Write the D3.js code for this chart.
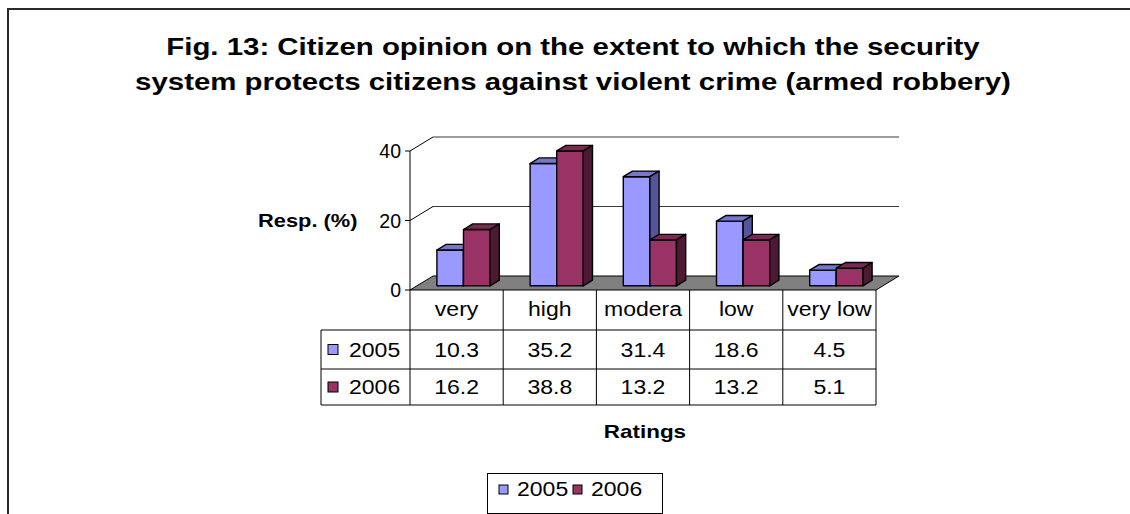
<!DOCTYPE html>
<html>
<head>
<meta charset="utf-8">
<script src="https://cdn.jsdelivr.net/npm/d3@7"></script>
<style>
  html, body { margin: 0; padding: 0; background: #fff; }
  svg { display: block; }
  text { font-family: "Liberation Sans", Arial, sans-serif; fill: #000; }
</style>
</head>
<body>
<svg id="chart" width="1130" height="514"></svg>
<script>
// ---------- data ----------
const categories = ["very", "high", "modera", "low", "very low"];
const seriesNames = ["2005", "2006"];
const values2005 = [10.3, 35.2, 31.4, 18.6, 4.5];
const values2006 = [16.2, 38.8, 13.2, 13.2, 5.1];
const yTicks = [0, 20, 40];
const titleLines = [
  "Fig. 13: Citizen opinion on the extent to which the security",
  "system protects citizens against violent crime (armed robbery)"
];
const yAxisTitle = "Resp. (%)";
const xAxisTitle = "Ratings";

// ---------- styling / layout ----------
const frontColors = {"2005": "#9999FF", "2006": "#993366"};
const topColors   = {"2005": "#7676CC", "2006": "#7A2952"};
const sideColors  = {"2005": "#555599", "2006": "#4D1A33"};
const K = 1.18; // horizontal glyph stretch of the original rendering

const svg = d3.select("#chart");

function stretch(sel, k) {
  sel.each(function () {
    const w = this.getComputedTextLength();
    this.setAttribute("textLength", w * k);
    this.setAttribute("lengthAdjust", "spacingAndGlyphs");
  });
}

// outer frame (cut at right/bottom)
svg.append("path")
  .attr("d", "M8,514 L8,9 L1130,9")
  .attr("fill", "none").attr("stroke", "#2a2a2a").attr("stroke-width", 2);

// title
const titleY = [55, 90];
titleLines.forEach((t, i) => {
  svg.append("text")
    .attr("x", 573).attr("y", titleY[i])
    .attr("text-anchor", "middle")
    .attr("font-weight", "bold").attr("font-size", 24.5)
    .text(t)
    .call(stretch, 1.2);
});

// scales
const plotLeft = 410, plotRight = 876;
const x = d3.scaleBand().domain(categories).range([plotLeft, plotRight]).paddingInner(0).paddingOuter(0);
const bw = x.bandwidth();
const xs = d3.scaleBand().domain(seriesNames).range([20, bw - 20]).padding(0);
const y = d3.scaleLinear().domain([0, 40]).range([290, 151]);
const DX = 23, DY = -14;           // full depth offset
const fBack = 0.3, fDepth = 0.4;   // bar depth position / thickness

// back-wall gridlines
const g = svg.append("g");
yTicks.filter(v => v > 0).forEach(v => {
  g.append("line")
    .attr("x1", plotLeft + DX).attr("x2", plotRight + DX)
    .attr("y1", y(v) + DY).attr("y2", y(v) + DY)
    .attr("stroke", "#3a3a3a").attr("stroke-width", 1.2);
  g.append("line")
    .attr("x1", plotLeft).attr("y1", y(v))
    .attr("x2", plotLeft + DX).attr("y2", y(v) + DY)
    .attr("stroke", "#000").attr("stroke-width", 1);
});

// floor
g.append("polygon")
  .attr("points", [
    [plotLeft, y(0)], [plotRight, y(0)],
    [plotRight + DX, y(0) + DY], [plotLeft + DX, y(0) + DY]
  ].map(p => p.join(",")).join(" "))
  .attr("fill", "#808080").attr("stroke", "#000").attr("stroke-width", 1);

// y axis
g.append("line")
  .attr("x1", plotLeft).attr("x2", plotLeft)
  .attr("y1", y(40)).attr("y2", y(0))
  .attr("stroke", "#000").attr("stroke-width", 1);
yTicks.forEach(v => {
  g.append("line")
    .attr("x1", plotLeft - 5).attr("x2", plotLeft)
    .attr("y1", y(v)).attr("y2", y(v))
    .attr("stroke", "#000");
  g.append("text")
    .attr("x", 401).attr("y", y(v) + 7)
    .attr("text-anchor", "end").attr("font-size", 19.5)
    .text(v).call(stretch, 1.0);
});

// y axis title
svg.append("text")
  .attr("x", 258).attr("y", 227)
  .attr("font-weight", "bold").attr("font-size", 18.5)
  .text(yAxisTitle).call(stretch, K);

// bars (3D)
const series = [
  {name: "2005", values: values2005},
  {name: "2006", values: values2006}
];
const ox = DX * fBack, oy = DY * fBack;
const ddx = DX * fDepth, ddy = DY * fDepth;
const barsG = svg.append("g");
categories.forEach((c, ci) => {
  series.forEach(s => {
    const v = s.values[ci];
    const x0 = x(c) + xs(s.name) + ox;
    const x1 = x0 + xs.bandwidth();
    const yb = y(0) + oy;
    const yt = y(v) + oy;
    const pts = a => a.map(p => p.join(",")).join(" ");
    // front
    barsG.append("polygon")
      .attr("points", pts([[x0, yt], [x1, yt], [x1, yb], [x0, yb]]))
      .attr("fill", frontColors[s.name]).attr("stroke", "#000").attr("stroke-width", 1.4)
      .attr("stroke-linejoin", "round");
    // top
    barsG.append("polygon")
      .attr("points", pts([[x0, yt], [x0 + ddx, yt + ddy], [x1 + ddx, yt + ddy], [x1, yt]]))
      .attr("fill", topColors[s.name]).attr("stroke", "#000").attr("stroke-width", 1.4)
      .attr("stroke-linejoin", "round");
    // side
    barsG.append("polygon")
      .attr("points", pts([[x1, yt], [x1 + ddx, yt + ddy], [x1 + ddx, yb + ddy], [x1, yb]]))
      .attr("fill", sideColors[s.name]).attr("stroke", "#000").attr("stroke-width", 1.4)
      .attr("stroke-linejoin", "round");
  });
});

// data table
const tG = svg.append("g");
const tableLeft = 321;
const rowY = [290, 330, 369, 405];
const fmt = d3.format(".1f");
// horizontal lines
[330, 369, 405].forEach(yy => {
  tG.append("line").attr("x1", tableLeft).attr("x2", plotRight)
    .attr("y1", yy).attr("y2", yy).attr("stroke", "#000");
});
// vertical lines
const colEdges = categories.map(c => x(c)).concat([plotRight]);
colEdges.forEach(xx => {
  tG.append("line").attr("x1", xx).attr("x2", xx)
    .attr("y1", rowY[0]).attr("y2", rowY[3]).attr("stroke", "#000");
});
tG.append("line").attr("x1", tableLeft).attr("x2", tableLeft)
  .attr("y1", rowY[1]).attr("y2", rowY[3]).attr("stroke", "#000");
// header
categories.forEach(c => {
  tG.append("text")
    .attr("x", x(c) + bw / 2).attr("y", 316)
    .attr("text-anchor", "middle").attr("font-size", 19.5)
    .text(c).call(stretch, K);
});
// rows
series.forEach((s, si) => {
  const top = rowY[si + 1], bot = rowY[si + 2];
  const base = (top + bot) / 2 + 7;
  tG.append("rect")
    .attr("x", 328).attr("y", (top + bot) / 2 - 5)
    .attr("width", 10).attr("height", 10)
    .attr("fill", frontColors[s.name]).attr("stroke", "#000").attr("stroke-width", 1);
  tG.append("text")
    .attr("x", 349).attr("y", base).attr("font-size", 19.5)
    .text(s.name).call(stretch, K);
  s.values.forEach((v, ci) => {
    tG.append("text")
      .attr("x", x(categories[ci]) + bw / 2).attr("y", base)
      .attr("text-anchor", "middle").attr("font-size", 19.5)
      .text(fmt(v)).call(stretch, K);
  });
});

// x axis title
svg.append("text")
  .attr("x", 645).attr("y", 438)
  .attr("text-anchor", "middle")
  .attr("font-weight", "bold").attr("font-size", 19)
  .text(xAxisTitle).call(stretch, K);

// legend
const lg = svg.append("g");
lg.append("rect")
  .attr("x", 487.5).attr("y", 473.5).attr("width", 175).attr("height", 40)
  .attr("fill", "#fff").attr("stroke", "#000").attr("stroke-width", 1);
const legX = [499, 573];
seriesNames.forEach((n, i) => {
  lg.append("rect")
    .attr("x", legX[i]).attr("y", 485).attr("width", 9).attr("height", 9)
    .attr("fill", frontColors[n]).attr("stroke", "#000").attr("stroke-width", 1);
  lg.append("text")
    .attr("x", legX[i] + 18).attr("y", 496).attr("font-size", 19.5)
    .text(n).call(stretch, K);
});
</script>
</body>
</html>
